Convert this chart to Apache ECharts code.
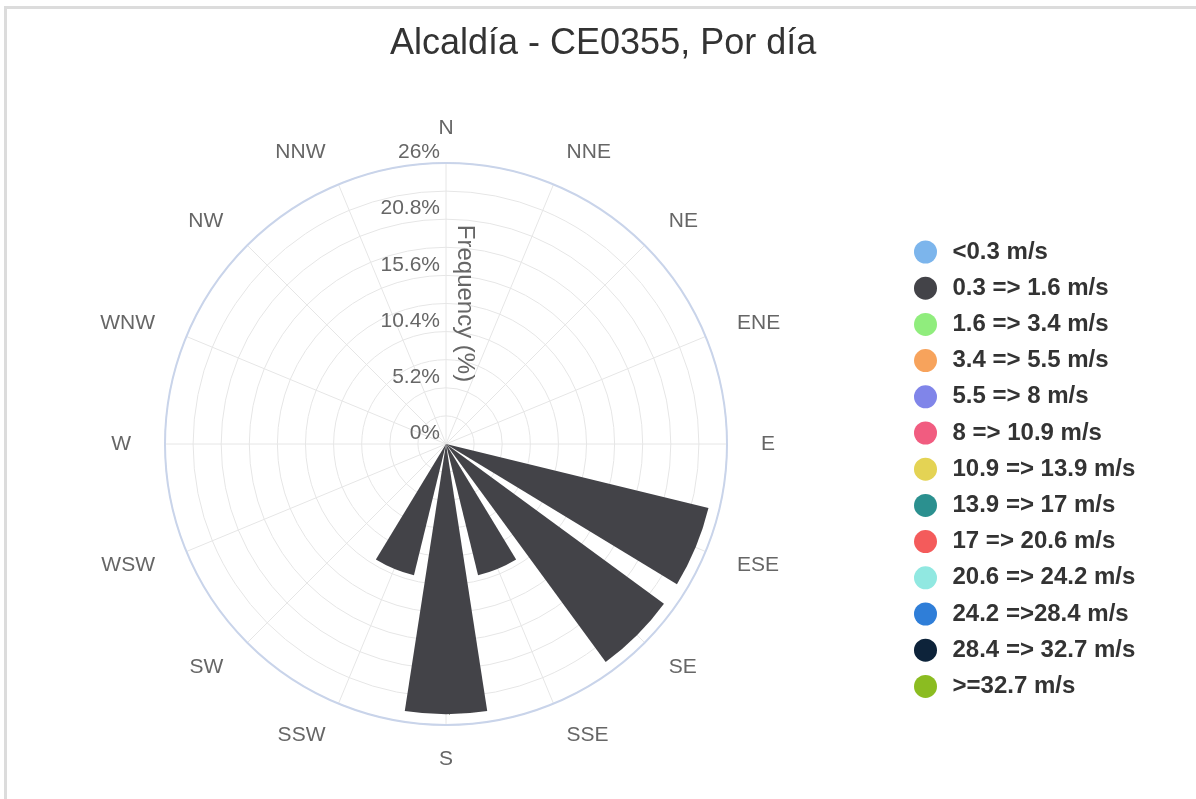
<!DOCTYPE html>
<html>
<head>
<meta charset="utf-8">
<title>Alcaldía - CE0355, Por día</title>
<script src="https://cdn.jsdelivr.net/npm/echarts@6/dist/echarts.min.js"></script>
<style>
  html, body { margin: 0; padding: 0; background: #fff; }
  #frame {
    position: absolute; left: 4px; top: 6px; width: 1300px; height: 900px;
    border-top: 3px solid #dcdcdc; border-left: 3px solid #dcdcdc;
  }
  #chart { position: absolute; left: 0; top: 0; width: 1196px; height: 799px; }
</style>
</head>
<body>
<div id="frame"></div>
<div id="chart"></div>
<script>
// wind directions (angle axis)
const directions = ['N', 'NNE', 'NE', 'ENE', 'E', 'ESE', 'SE', 'SSE',
  'S', 'SSW', 'SW', 'WSW', 'W', 'WNW', 'NW', 'NNW'];

// speed classes (legend)
const speedBins = ['<0.3 m/s', '0.3 => 1.6 m/s', '1.6 => 3.4 m/s', '3.4 => 5.5 m/s',
  '5.5 => 8 m/s', '8 => 10.9 m/s', '10.9 => 13.9 m/s', '13.9 => 17 m/s',
  '17 => 20.6 m/s', '20.6 => 24.2 m/s', '24.2 =>28.4 m/s', '28.4 => 32.7 m/s', '>=32.7 m/s'];

const binColors = ['#7cb5ec', '#434348', '#90ed7d', '#f7a35c', '#8085e9', '#f15c80',
  '#e4d354', '#2b908f', '#f45b5b', '#91e8e1', '#2f7ed8', '#0d233a', '#8bbc21'];

// frequency (%) per direction, one list per speed class
const freqCalm    = [0, 0, 0, 0, 0, 0, 0, 0, 0, 0, 0, 0, 0, 0, 0, 0];
const freq03to16  = [0, 0, 0, 0, 0, 25, 25, 12.5, 25, 12.5, 0, 0, 0, 0, 0, 0];
const freqEmpty   = [0, 0, 0, 0, 0, 0, 0, 0, 0, 0, 0, 0, 0, 0, 0, 0];
const binValues = [freqCalm, freq03to16, freqEmpty, freqEmpty, freqEmpty, freqEmpty,
  freqEmpty, freqEmpty, freqEmpty, freqEmpty, freqEmpty, freqEmpty, freqEmpty];

// radial scale
const radiusMax = 26;
const radiusStep = 2.6;
const sector = 360 / directions.length;

const chart = echarts.init(document.getElementById('chart'));

const font = '"Liberation Sans", Arial, Helvetica, sans-serif';
const center = [446, 444];
const outer = 281;

const option = {
  backgroundColor: 'transparent',
  animation: false,
  textStyle: { fontFamily: font },
  title: {
    text: 'Alcaldía - CE0355, Por día',
    left: 390,
    top: 26,
    padding: 0,
    textStyle: { fontSize: 36, fontWeight: 'normal', color: '#333', fontFamily: font }
  },
  legend: {
    orient: 'vertical',
    left: 914,
    top: 240,
    padding: 0,
    itemWidth: 44,
    itemHeight: 23,
    itemGap: 12.2,
    icon: 'circle',
    textStyle: { fontSize: 24, fontWeight: 'bold', color: '#333', fontFamily: font },
    data: speedBins
  },
  // polar 0 holds the bars (sectors centred on each direction),
  // polar 1 draws the grid, direction labels and the frequency scale
  polar: [
    { center: center, radius: outer },
    { center: center, radius: outer }
  ],
  angleAxis: [
    {
      polarIndex: 0,
      type: 'category',
      data: directions,
      startAngle: 90 + sector / 2,
      clockwise: true,
      boundaryGap: true,
      axisLine: { show: false },
      axisTick: { show: false },
      axisLabel: { show: false },
      splitLine: { show: false }
    },
    {
      polarIndex: 1,
      type: 'value',
      min: 0,
      max: 360,
      interval: sector,
      startAngle: 90,
      clockwise: true,
      axisLine: { show: true, lineStyle: { color: '#c9d4ea', width: 2 } },
      axisTick: { show: false },
      axisLabel: {
        color: '#666',
        fontSize: 21,
        margin: 34,
        lineHeight: 1, // keeps every label vertically centred on its anchor
        formatter: function (v) {
          return directions[Math.round(v / sector) % directions.length];
        }
      },
      splitLine: { show: true, lineStyle: { color: '#e6e6e6', width: 1 } }
    }
  ],
  radiusAxis: [
    {
      polarIndex: 0,
      type: 'value',
      min: 0,
      max: radiusMax,
      axisLine: { show: false },
      axisTick: { show: false },
      axisLabel: { show: false },
      splitLine: { show: false }
    },
    {
      polarIndex: 1,
      type: 'value',
      min: 0,
      max: radiusMax,
      interval: radiusStep,
      name: 'Frequency (%)',
      nameLocation: 'middle',
      nameRotate: -90,
      nameGap: 7,
      nameTextStyle: { color: '#666', fontSize: 24 },
      axisLine: { show: false },
      axisTick: { show: false },
      axisLabel: {
        color: '#666',
        fontSize: 21,
        verticalAlign: 'bottom',
        margin: 6,
        formatter: function (v) {
          const k = Math.round(v / radiusStep);
          return k % 2 === 0 ? (+(k * radiusStep).toFixed(1)) + '%' : '';
        }
      },
      splitLine: { show: true, lineStyle: { color: '#e6e6e6', width: 1 } }
    }
  ],
  series: speedBins.map(function (name, i) {
    return {
      type: 'bar',
      coordinateSystem: 'polar',
      polarIndex: 0,
      name: name,
      stack: 'wind',
      barCategoryGap: '22%',
      itemStyle: { color: binColors[i] },
      data: binValues[i]
    };
  })
};

chart.setOption(option);
</script>
</body>
</html>
